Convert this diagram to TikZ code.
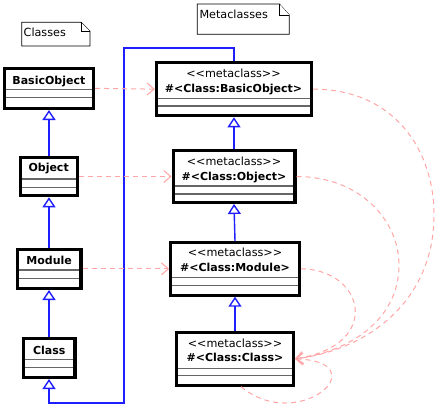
\documentclass[tikz,border=0pt]{standalone}
\usepackage{fontspec}
\setmainfont{DejaVu Sans}
\usetikzlibrary{arrows.meta,calc}
\definecolor{inhblue}{RGB}{30,30,255}
\definecolor{deppink}{RGB}{255,165,165}
\tikzset{
  cbox/.style={draw=black, line width=3.2pt, fill=white, inner sep=0pt},
  ttl/.style={font=\fontsize{11}{13}\selectfont\bfseries, anchor=base, inner sep=0pt},
  ster/.style={font=\fontsize{11.2}{13}\selectfont, anchor=base, inner sep=0pt},
  notetxt/.style={font=\fontsize{11.2}{13}\selectfont, anchor=base west, inner sep=0pt},
  notebox/.style={draw=black, line width=0.8pt, fill=white},
  sepln/.style={draw=black!60, line width=1.2pt},
  inh/.style={draw=inhblue, line width=1.4pt, -{Triangle[open, length=10pt, width=13pt]}},
  dep/.style={draw=deppink, line width=1pt, dash pattern=on 5pt off 4pt, -{Straight Barb[length=7pt, width=12pt]}},
}
\newcommand\sepat[2]{\draw[sepln] ($(#1.west |- 0,#2)+(3.2,0)$) -- ($(#1.east |- 0,#2)+(-3.2,0)$);}
\newcommand\stereo{<{}<metaclass>{}>}
\begin{document}
\begin{tikzpicture}[x=1pt, y=-1pt]
\useasboundingbox (0,0) rectangle (441,408);

% notes
\draw[notebox] (21.7,22.3) -- (81,22.3) -- (90,31.3) -- (90,46) -- (21.7,46) -- cycle;
\draw[notebox] (81,22.3) -- (81,31.3) -- (90,31.3);
\node[notetxt] (nclasses) at (23.5,36) {Classes};
\draw[notebox] (197.3,4) -- (279.3,4) -- (289.3,15) -- (289.3,34.3) -- (197.3,34.3) -- cycle;
\draw[notebox] (279.3,4) -- (279.3,15) -- (289.3,15);
\node[notetxt] (nmeta) at (199.3,18.3) {Metaclasses};

% class boxes
\node[cbox, minimum width=89.1, minimum height=40.1] (bo) at (49,88.35) {};
\node[cbox, minimum width=57.5, minimum height=38.4] (obj) at (49,176.5) {};
\node[cbox, minimum width=63.8, minimum height=39.1] (mod) at (49,268.85) {};
\node[cbox, minimum width=51.8, minimum height=39.1] (cls) at (49,357.85) {};

\node[ttl] (boT) at (48.85,84) {BasicObject};
\node[ttl] (objT) at (48.65,171.8) {Object};
\node[ttl] (modT) at (49.2,264.3) {Module};
\node[ttl] (clsT) at (49.2,354) {Class};

\sepat{bo}{89.3}\sepat{bo}{97.3}
\sepat{obj}{179}\sepat{obj}{187.3}
\sepat{mod}{270}\sepat{mod}{278.3}
\sepat{cls}{359.3}\sepat{cls}{367.7}

% metaclass boxes
\node[cbox, minimum width=155.1, minimum height=53.1] (mbo) at (234,89.15) {};
\node[cbox, minimum width=121.8, minimum height=51.8] (mobj) at (234,176.5) {};
\node[cbox, minimum width=128.5, minimum height=52.5] (mmod) at (235,268.85) {};
\node[cbox, minimum width=117.1, minimum height=52.5] (mcls) at (235,358.85) {};

\node[ster] (mboS) at (233.5,77.3) {\stereo};
\node[ttl] (mboT) at (233.5,92.3) {\#<Class:BasicObject>};
\node[ster] (mobjS) at (234,165.7) {\stereo};
\node[ttl] (mobjT) at (234,180) {\#<Class:Object>};
\node[ster] (mmodS) at (235,256) {\stereo};
\node[ttl] (mmodT) at (235,271) {\#<Class:Module>};
\node[ster] (mclsS) at (235,347.7) {\stereo};
\node[ttl] (mclsT) at (235,361) {\#<Class:Class>};

\sepat{mbo}{98.7}\sepat{mbo}{106}
\sepat{mobj}{186}\sepat{mobj}{194}
\sepat{mmod}{277.3}\sepat{mmod}{285.7}
\sepat{mcls}{368.3}\sepat{mcls}{375.7}

% inheritance
\draw[inh] (obj.north) -- (bo.south);
\draw[inh] (mod.north) -- (obj.south);
\draw[inh] (cls.north) -- (mod.south);
\draw[inh] (mobj.north) -- (mbo.south);
\draw[inh] (mmod.north) -- (mobj.south);
\draw[inh] (mcls.north) -- (mmod.south);
\coordinate (tl) at (124,48);
\coordinate (bl) at (124,403);
\draw[inh] (mbo.north) |- (tl) -- (bl) -| (cls.south);

% instance-of dependencies
\draw[dep] (bo.east) -- (mbo.west);
\draw[dep] (obj.east) -- (mobj.west);
\draw[dep] (mod.east) -- (mmod.west);

\coordinate (w1) at (434,215);
\coordinate (w2) at (399,265);
\draw[dep] (mbo.east) .. controls +(81,0) and +(0,-65) .. (w1) .. controls +(0,85) and +(74,-9) .. (mcls.east);
\draw[dep] (mobj.east) .. controls +(63,0) and +(0,-45) .. (w2) .. controls +(0,55) and +(54,-7) .. (mcls.east);
\draw[dep] (mmod.east) .. controls +(63,0) and +(89,-14) .. (mcls.east);
\draw[dep] ($(mcls.south)+(6,0)$) .. controls +(58,48) and +(84,3) .. (mcls.east);
\end{tikzpicture}
\end{document}
